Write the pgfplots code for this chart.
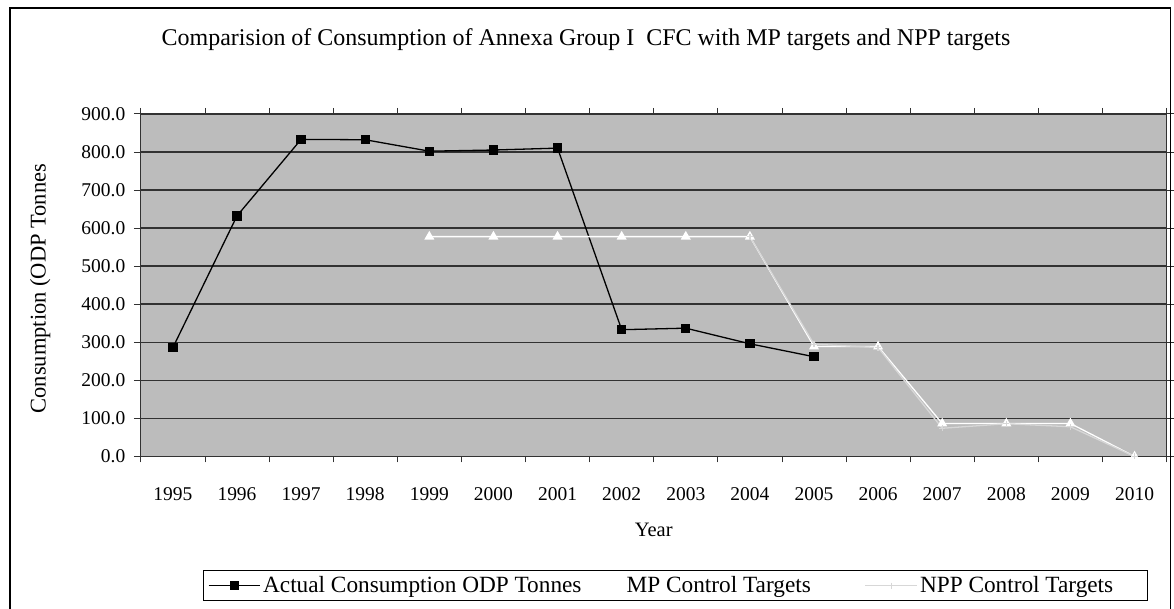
\documentclass[border=0pt]{standalone}
\usepackage{fontspec}
\setmainfont{Liberation Serif}
\usepackage{pgfplots}
\pgfplotsset{compat=1.18}
\definecolor{plotbg}{RGB}{188,188,188}
\definecolor{gridc}{RGB}{50,50,50}
\definecolor{nppc}{RGB}{215,215,215}
\pgfplotsset{shortimage/.style={legend image code/.code={\draw[mark repeat=2,mark phase=2,##1] plot coordinates {(0pt,0pt) (10pt,0pt) (20pt,0pt)};}}}
\begin{document}
\begin{tikzpicture}
\begin{axis}[
  name=ax,
  scale only axis,
  width=1027pt, height=343pt,
  xmin=-0.5, xmax=15.5, ymin=0, ymax=900,
  axis background/.style={fill=plotbg},
  xtick={0,...,15},
  xticklabels={1995,1996,1997,1998,1999,2000,2001,2002,2003,2004,2005,2006,2007,2008,2009,2010},
  major x tick style={draw=none},
  minor xtick={-0.5,0.5,...,15.5},
  ytick={0,100,...,900},
  yticklabel style={xshift=-5pt,/pgf/number format/.cd,fixed,fixed zerofill,precision=1,assume math mode=true},
  ymajorgrids,
  grid style={gridc, line width=1.5pt},
  tick align=outside,
  major tick length=7pt, minor tick length=6pt,
  axis line style={gridc, line width=1pt},
  tick style={gridc, line width=0.8pt},
  ticklabel style={font=\fontsize{19.5}{22}\selectfont},
  xticklabel style={yshift=-21pt},
  xlabel={Year},
  xlabel style={at={(axis description cs:0.5,-0.215)}, anchor=center, font=\fontsize{20.5}{24}\selectfont},
  ylabel={Consumption (ODP Tonnes},
  ylabel style={at={(axis description cs:-0.098,0.49)}, anchor=center, rotate=0, font=\fontsize{22.5}{26}\selectfont},
  title={Comparision of Consumption of Annexa Group I\ \ CFC with MP targets and NPP targets},
  title style={at={(axis description cs:0.434,1.198)}, anchor=center, font=\fontsize{24}{28}\selectfont},
  legend columns=3,
  legend style={at={(axis description cs:0.061,-0.332)}, anchor=north west, draw=black, line width=1pt, fill=white,
    font=\fontsize{23.3}{27}\selectfont, inner sep=4pt,
    /tikz/every even column/.append style={column sep=20pt}},
  legend image code/.code={\draw[mark repeat=2,mark phase=2,#1] plot coordinates {(0pt,0pt) (26pt,0pt) (52pt,0pt)};},
]
\addplot[black, line width=1.3pt, mark=square*, mark size=4pt, mark options={solid,fill=black}]
  coordinates {(0,286) (1,632) (2,833) (3,832) (4,802) (5,805) (6,810) (7,333) (8,337) (9,296) (10,262)};
\addlegendentry{Actual Consumption ODP Tonnes}
\addplot[white, line width=1.3pt, mark=triangle*, mark size=4.5pt, mark options={solid,fill=white}, shortimage]
  coordinates {(4,577.5) (5,577.5) (6,577.5) (7,577.5) (8,577.5) (9,577.5) (10,288.8) (11,288.8) (12,86.6) (13,86.6) (14,86.6) (15,0)};
\addlegendentry{MP Control Targets\rule{32pt}{0pt}}
\addplot[nppc, line width=1.3pt, mark=+, mark size=3pt, mark options={solid}]
  coordinates {(9,577.5) (10,295) (11,286) (12,74) (13,86) (14,78) (15,0)};
\addlegendentry{NPP Control Targets\rule{28pt}{0pt}}
\end{axis}
\path[use as bounding box] ([xshift=-141pt,yshift=114pt]ax.north west) rectangle ([xshift=6pt,yshift=-152pt]ax.south east);
\draw[black, line width=1.2pt] ([xshift=-131pt,yshift=106pt]ax.north west) rectangle ([xshift=4pt,yshift=-170pt]ax.south east);
\end{tikzpicture}
\end{document}
